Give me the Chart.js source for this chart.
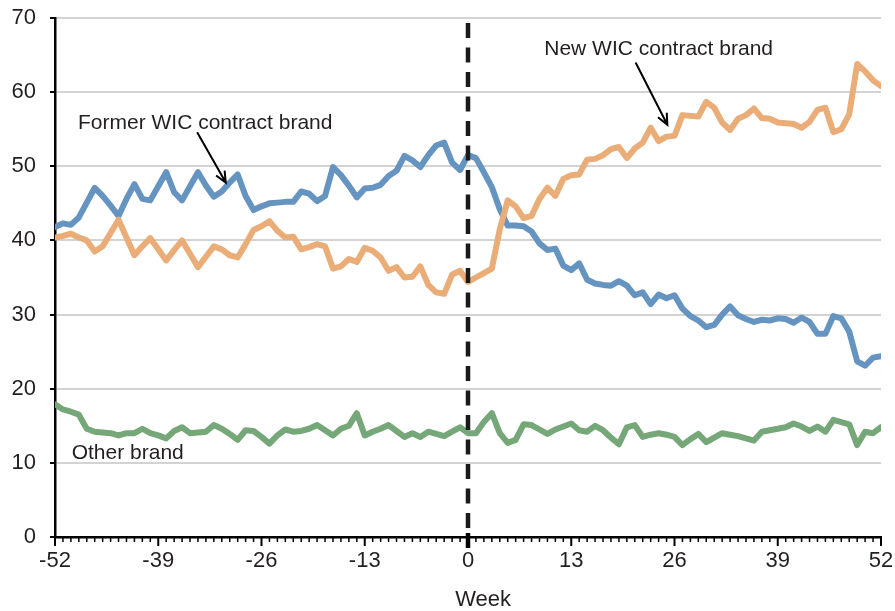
<!DOCTYPE html>
<html>
<head>
<meta charset="utf-8">
<script src="https://cdn.jsdelivr.net/npm/chart.js@4.4.1/dist/chart.umd.min.js"></script>
<style>
  html, body { margin: 0; padding: 0; background: #fff; }
  #wrap { width: 895px; height: 611px; }
</style>
</head>
<body>
<div id="wrap"><canvas id="chart" width="895" height="611"></canvas></div>
<script>
const weeks = [
  -52, -51, -50, -49, -48, -47, -46, -45, -44, -43, -42, -41, -40, -39, -38, -37, -36, -35,
  -34, -33, -32, -31, -30, -29, -28, -27, -26, -25, -24, -23, -22, -21, -20, -19, -18, -17,
  -16, -15, -14, -13, -12, -11, -10, -9, -8, -7, -6, -5, -4, -3, -2, -1,
  0, 1, 2, 3, 4, 5, 6, 7, 8, 9, 10, 11, 12, 13, 14, 15, 16, 17, 18, 19, 20, 21, 22, 23, 24, 25,
  26, 27, 28, 29, 30, 31, 32, 33, 34, 35, 36, 37, 38, 39, 40, 41, 42, 43, 44, 45, 46, 47, 48,
  49, 50, 51, 52,
];

const newBrand = [
  40.4, 40.6, 40.9, 40.4, 40.0, 38.5, 39.2, 41.0, 42.8, 40.4, 38.0, 39.2, 40.3, 38.8, 37.3, 38.7, 40.0, 38.2,
  36.4, 37.8, 39.2, 38.8, 38.0, 37.7, 39.5, 41.4, 41.9, 42.6, 41.3, 40.4, 40.5, 38.8, 39.1, 39.5, 39.2, 36.2,
  36.5, 37.5, 37.1, 39.0, 38.6, 37.7, 35.9, 36.4, 35.0, 35.1, 36.5, 34.0, 33.0, 32.8, 35.4, 35.9,
  34.4, 35.0, 35.6, 36.2, 41.5, 45.4, 44.6, 43.0, 43.3, 45.6, 47.1, 46.0, 48.3, 48.8, 48.9, 50.9, 51.0, 51.5,
  52.3, 52.6, 51.1, 52.4, 53.2, 55.2, 53.4, 54.0, 54.1, 56.9, 56.8, 56.7, 58.7, 57.9, 55.9, 54.9, 56.4, 56.9,
  57.8, 56.5, 56.4, 55.9, 55.8, 55.7, 55.2, 56.0, 57.6, 57.9, 54.6, 55.0, 57.0, 63.8, 62.8, 61.6, 60.8,
];

const formerBrand = [
  41.8, 42.3, 42.1, 43.1, 45.1, 47.1, 46.0, 44.7, 43.3, 45.6, 47.6, 45.6, 45.4, 47.3, 49.2, 46.5, 45.4, 47.3,
  49.2, 47.4, 45.9, 46.6, 47.8, 48.9, 46.0, 44.1, 44.6, 45.0, 45.1, 45.2, 45.2, 46.6, 46.3, 45.3, 46.0, 49.9,
  48.8, 47.4, 45.8, 47.0, 47.1, 47.5, 48.7, 49.4, 51.4, 50.8, 49.9, 51.5, 52.8, 53.2, 50.5, 49.5,
  51.5, 51.1, 49.2, 47.2, 44.2, 42.0, 42.0, 41.9, 41.2, 39.6, 38.7, 38.9, 36.6, 36.0, 36.9, 34.7, 34.2, 34.0,
  33.9, 34.5, 33.9, 32.6, 33.0, 31.4, 32.7, 32.2, 32.6, 30.8, 29.8, 29.2, 28.3, 28.6, 30.0, 31.1, 29.9, 29.4,
  29.0, 29.3, 29.2, 29.5, 29.4, 28.9, 29.6, 29.0, 27.4, 27.4, 29.8, 29.5, 27.7, 23.7, 23.1, 24.2, 24.4,
];

const otherBrand = [
  17.9, 17.2, 16.9, 16.5, 14.6, 14.2, 14.1, 14.0, 13.7, 14.0, 14.0, 14.6, 14.0, 13.7, 13.3, 14.3, 14.8, 14.0,
  14.1, 14.2, 15.1, 14.6, 13.9, 13.1, 14.4, 14.3, 13.5, 12.6, 13.7, 14.5, 14.2, 14.3, 14.6, 15.1, 14.4, 13.7,
  14.6, 15.0, 16.7, 13.7, 14.2, 14.6, 15.1, 14.3, 13.5, 14.0, 13.5, 14.2, 13.9, 13.6, 14.2, 14.8,
  14.0, 14.0, 15.5, 16.7, 14.0, 12.7, 13.1, 15.2, 15.1, 14.5, 13.9, 14.5, 14.9, 15.3, 14.4, 14.2, 15.0, 14.4,
  13.4, 12.5, 14.8, 15.1, 13.5, 13.8, 14.0, 13.8, 13.5, 12.4, 13.2, 13.9, 12.8, 13.4, 14.0, 13.8, 13.6, 13.3,
  13.0, 14.2, 14.4, 14.6, 14.8, 15.3, 14.9, 14.3, 14.9, 14.2, 15.8, 15.5, 15.2, 12.4, 14.2, 14.0, 14.8,
];

const yTicks = [0, 10, 20, 30, 40, 50, 60, 70];
const xTickStep = 13;
const dividerWeek = 0;

// labels are placed in data units: [week, value]
const notes = [
  { text: "Former WIC contract brand", at: [-49.1, 55.0], arrow: [[-34.1, 54.6], [-30.5, 47.8]] },
  { text: "New WIC contract brand", at: [9.6, 65.0], arrow: [[21.1, 64.0], [25.1, 55.6]] },
  { text: "Other brand", at: [-49.9, 10.5] },
];

const fontFamily = '"Liberation Sans", Arial, sans-serif';
const textColor = "#231f20";

function points(values) {
  return weeks.map((week, i) => ({ x: week, y: values[i] }));
}

function series(values, color) {
  return {
    data: points(values),
    borderColor: color,
    borderWidth: 6,
    pointRadius: 0,
    tension: 0,
    borderJoinStyle: "round",
    borderCapStyle: "round",
  };
}

const dividerLine = {
  id: "dividerLine",
  afterDatasetsDraw(chart) {
    const { ctx, chartArea, scales } = chart;
    const x = scales.x.getPixelForValue(dividerWeek);
    ctx.save();
    ctx.strokeStyle = "#1a1a1a";
    ctx.lineWidth = 4.5;
    ctx.setLineDash([15, 9.5]);
    ctx.beginPath();
    ctx.moveTo(x, chartArea.top + 5);
    ctx.lineTo(x, chartArea.bottom);
    ctx.stroke();
    ctx.restore();
  },
};

const weekTicks = {
  id: "weekTicks",
  afterDraw(chart) {
    const { ctx, chartArea, scales } = chart;
    ctx.save();
    ctx.strokeStyle = "#000";
    weeks.forEach((week) => {
      const x = scales.x.getPixelForValue(week);
      const major = week % xTickStep === 0;
      const zero = week === dividerWeek;
      ctx.lineWidth = zero ? 4.5 : major ? 2 : 1.5;
      ctx.beginPath();
      ctx.moveTo(x, chartArea.bottom - (zero ? 4 : 0));
      ctx.lineTo(x, chartArea.bottom + (zero ? 11 : major ? 9 : 5));
      ctx.stroke();
    });
    ctx.restore();
  },
};

function drawArrow(ctx, x1, y1, x2, y2) {
  const angle = Math.atan2(y2 - y1, x2 - x1);
  const head = 12;
  ctx.beginPath();
  ctx.moveTo(x1, y1);
  ctx.lineTo(x2, y2);
  ctx.moveTo(x2 - head * Math.cos(angle - 0.42), y2 - head * Math.sin(angle - 0.42));
  ctx.lineTo(x2, y2);
  ctx.lineTo(x2 - head * Math.cos(angle + 0.42), y2 - head * Math.sin(angle + 0.42));
  ctx.stroke();
}

const noteLabels = {
  id: "noteLabels",
  afterDraw(chart) {
    const { ctx, scales } = chart;
    const px = (p) => [scales.x.getPixelForValue(p[0]), scales.y.getPixelForValue(p[1])];
    ctx.save();
    ctx.fillStyle = textColor;
    ctx.strokeStyle = "#000";
    ctx.lineWidth = 2;
    ctx.font = `21px ${fontFamily}`;
    ctx.textBaseline = "alphabetic";
    ctx.textAlign = "left";
    notes.forEach((note) => {
      const [x, y] = px(note.at);
      ctx.fillText(note.text, x, y);
      if (note.arrow) {
        const [a, b] = note.arrow.map(px);
        drawArrow(ctx, a[0], a[1], b[0], b[1]);
      }
    });
    // axis title
    ctx.font = `22px ${fontFamily}`;
    ctx.textAlign = "center";
    ctx.fillText("Week", scales.x.getPixelForValue(1.9), 605.5);
    ctx.restore();
  },
};

new Chart(document.getElementById("chart"), {
  type: "line",
  data: {
    datasets: [
      series(newBrand, "rgb(234,173,120)"),
      series(formerBrand, "rgb(102,148,193)"),
      series(otherBrand, "rgb(117,167,121)"),
    ],
  },
  options: {
    responsive: false,
    animation: false,
    devicePixelRatio: 1,
    layout: { padding: { top: 18, right: 14, left: 0, bottom: 0 } },
    plugins: { legend: { display: false }, tooltip: { enabled: false } },
    scales: {
      x: {
        type: "linear",
        min: weeks[0],
        max: weeks[weeks.length - 1],
        border: { display: true, color: "#000", width: 2.5 },
        grid: { display: true, drawOnChartArea: false, drawTicks: false },
        ticks: {
          stepSize: xTickStep,
          autoSkip: false,
          maxRotation: 0,
          padding: 11,
          color: textColor,
          font: { family: fontFamily, size: 22 },
        },
        afterFit(scale) {
          scale.height = 74;
          scale.paddingLeft = 0;
          scale.paddingRight = 0;
        },
      },
      y: {
        min: yTicks[0],
        max: yTicks[yTicks.length - 1],
        border: { display: true, color: "#000", width: 2.5 },
        grid: {
          color: (c) => (c.tick && c.tick.value === 0 ? "rgba(0,0,0,0)" : "#d3d3d3"),
          lineWidth: 2,
          tickColor: "#000",
          tickLength: 5,
          tickWidth: 2,
        },
        ticks: {
          stepSize: 10,
          padding: 14,
          color: textColor,
          font: { family: fontFamily, size: 22 },
        },
        afterFit(scale) {
          scale.width = 55;
          scale.paddingTop = 0;
          scale.paddingBottom = 0;
        },
      },
    },
  },
  plugins: [dividerLine, weekTicks, noteLabels],
});
</script>
</body>
</html>
